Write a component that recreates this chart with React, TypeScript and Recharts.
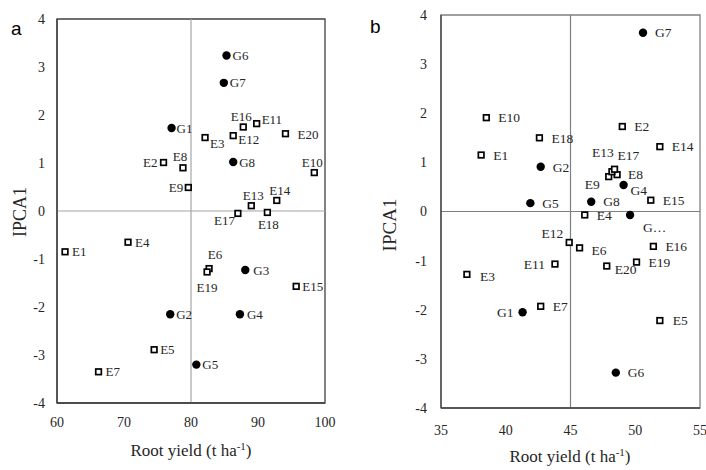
import React from "react";
import {
  ScatterChart,
  Scatter,
  XAxis,
  YAxis,
  ReferenceLine,
  ReferenceArea,
} from "recharts";

// genotypes and environments
const genNames = ["G1", "G2", "G3", "G4", "G5", "G6", "G7", "G8"];
const envNames = [
  "E1", "E2", "E3", "E4", "E5", "E6", "E7", "E8", "E9", "E10",
  "E11", "E12", "E13", "E14", "E15", "E16", "E17", "E18", "E19", "E20",
];
// panel b shows G3 truncated
const genNamesB = ["G1", "G2", "G…", "G4", "G5", "G6", "G7", "G8"];

// panel a
const aGenYield = [77.1, 76.9, 88.1, 87.3, 80.8, 85.3, 84.9, 86.3];
const aGenIpca = [1.73, -2.15, -1.23, -2.15, -3.2, 3.24, 2.67, 1.02];
const aEnvYield = [
  61.2, 75.9, 82.1, 70.6, 74.5, 82.7, 66.2, 78.8, 79.6, 98.4,
  89.8, 86.3, 89.0, 92.8, 95.7, 87.8, 87.0, 91.4, 82.4, 94.1,
];
const aEnvIpca = [
  -0.85, 1.01, 1.53, -0.65, -2.89, -1.2, -3.35, 0.9, 0.49, 0.8,
  1.82, 1.57, 0.11, 0.22, -1.57, 1.75, -0.05, -0.03, -1.27, 1.61,
];

// panel b
const bGenYield = [41.3, 42.7, 49.6, 49.1, 41.9, 48.5, 50.6, 46.6];
const bGenIpca = [-2.05, 0.91, -0.07, 0.54, 0.17, -3.28, 3.64, 0.2];
const bEnvYield = [
  38.1, 49.0, 37.0, 46.1, 51.9, 45.7, 42.7, 48.6, 47.95, 38.5,
  43.8, 44.9, 48.2, 51.9, 51.2, 51.4, 48.4, 42.6, 50.1, 47.8,
];
const bEnvIpca = [
  1.15, 1.73, -1.28, -0.07, -2.22, -0.74, -1.93, 0.75, 0.71, 1.91,
  -1.07, -0.63, 0.81, 1.32, 0.23, -0.71, 0.86, 1.5, -1.03, -1.11,
];

const aXTicks = [60, 70, 80, 90, 100];
const bXTicks = [35, 40, 45, 50, 55];
const yTicks = [-4, -3, -2, -1, 0, 1, 2, 3, 4];

type LabelAt = [number, number, "start" | "middle" | "end"];

// label placement beside each marker (dx, dy, anchor)
const aLabelAt: Record<string, LabelAt> = {
  E16: [-2, -11, "middle"],
  E11: [5, -4, "start"],
  E20: [12, 1, "start"],
  G1: [5, 0, "start"],
  E3: [5, 6, "start"],
  E12: [5, 4, "start"],
  E2: [-6, 0, "end"],
  E8: [-3, -11, "middle"],
  E10: [-2, -10, "middle"],
  E9: [-5, 0, "end"],
  E13: [2, -10, "middle"],
  E14: [3, -10, "middle"],
  E17: [-3, 7, "end"],
  E18: [1, 12, "middle"],
  E1: [7, 0, "start"],
  E4: [7, 0, "start"],
  E6: [6, -14, "middle"],
  E19: [0, 15, "middle"],
  G3: [8, 0, "start"],
  E7: [7, 0, "start"],
  G4: [7, 0, "start"],
};
const bLabelAt: Record<string, LabelAt> = {
  E13: [-9, -19, "middle"],
  E17: [3, -14, "start"],
  E9: [-9, 8, "end"],
  E8: [11, 0, "start"],
  G4: [7, 5, "start"],
  "G…": [13, 12, "start"],
  E12: [-6, -9, "end"],
  E6: [12, 2, "start"],
  E11: [-10, 0, "end"],
  E20: [8, 3, "start"],
  E3: [13, 2, "start"],
  G1: [-9, 0, "end"],
  E5: [13, 0, "start"],
};

const serif = "'Liberation Serif', 'Times New Roman', serif";

const toPoints = (names: string[], xs: number[], ys: number[]) =>
  names.map((name, i) => ({ name, x: xs[i], y: ys[i] }));

const makeShape =
  (
    kind: "dot" | "square",
    labels: Record<string, LabelAt>,
    def: LabelAt,
    size: number
  ) =>
  (props: any) => {
    const { cx, cy, payload } = props;
    const [dx, dy, anchor] = labels[payload.name] || def;
    return (
      <g>
        {kind === "dot" ? (
          <circle cx={cx} cy={cy} r={4.2} fill="#000" />
        ) : (
          <rect
            x={cx - 2.8}
            y={cy - 2.8}
            width={5.6}
            height={5.6}
            fill="#fff"
            stroke="#000"
            strokeWidth={1.7}
          />
        )}
        <text
          x={cx + dx}
          y={cy + dy}
          dy="0.35em"
          textAnchor={anchor}
          fontFamily={serif}
          fontSize={size}
          fill="#262626"
        >
          {payload.name}
        </text>
      </g>
    );
  };

const Panel = ({
  left,
  width,
  yAxisWidth,
  marginTop,
  marginRight,
  xAxisHeight,
  xDomain,
  xTicks,
  cross,
  genPts,
  envPts,
  labels,
  def,
  labelSize,
  frame,
  crossColor,
  yTickMargin,
  xTickMargin,
  letter,
  letterX,
  letterY,
  yTitleX,
  yTitleY,
  yTitleSize,
  xTitleX,
  xTitleY,
}: any) => (
  <div style={{ position: "absolute", left, top: 0, width, height: 470 }}>
    <ScatterChart
      width={width}
      height={470}
      margin={{ top: marginTop, right: marginRight, bottom: 0, left: 0 }}
    >
      <XAxis
        type="number"
        dataKey="x"
        domain={xDomain}
        ticks={xTicks}
        height={xAxisHeight}
        tickLine={false}
        tickSize={6}
        tickMargin={xTickMargin}
        axisLine={{ stroke: "#404040", strokeWidth: 1.3 }}
        tick={{ fill: "#262626", fontSize: 14, fontFamily: serif }}
        interval={0}
      />
      <YAxis
        type="number"
        dataKey="y"
        domain={[-4, 4]}
        ticks={yTicks}
        width={yAxisWidth}
        tickLine={false}
        tickSize={6}
        tickMargin={yTickMargin}
        axisLine={{ stroke: "#404040", strokeWidth: 1.3 }}
        tick={{ fill: "#262626", fontSize: 14, fontFamily: serif }}
        interval={0}
      />
      <ReferenceArea
        x1={xDomain[0]}
        x2={xDomain[1]}
        y1={-4}
        y2={4}
        fill="none"
        stroke={frame}
        strokeWidth={1.3}
        ifOverflow="visible"
      />
      <ReferenceLine x={cross} stroke={crossColor} strokeWidth={1.2} />
      <ReferenceLine y={0} stroke={crossColor} strokeWidth={1.2} />
      <Scatter
        data={envPts}
        isAnimationActive={false}
        shape={makeShape("square", labels, def, labelSize)}
      />
      <Scatter
        data={genPts}
        isAnimationActive={false}
        shape={makeShape("dot", labels, def, labelSize)}
      />
    </ScatterChart>
    <svg
      width={width}
      height={470}
      style={{ position: "absolute", left: 0, top: 0, pointerEvents: "none" }}
    >
      <text
        x={letterX}
        y={letterY}
        fontFamily="'Liberation Sans', Arial, sans-serif"
        fontSize={19}
        fill="#000"
      >
        {letter}
      </text>
      <text
        transform={`translate(${yTitleX},${yTitleY}) rotate(-90)`}
        textAnchor="middle"
        dy="0.35em"
        fontFamily={serif}
        fontSize={yTitleSize}
        fill="#262626"
      >
        IPCA1
      </text>
      <text
        x={xTitleX}
        y={xTitleY}
        textAnchor="middle"
        fontFamily={serif}
        fontSize={17}
        fill="#262626"
      >
        Root yield (t ha
        <tspan dy={-6} fontSize={11}>
          -1
        </tspan>
        <tspan dy={6}>)</tspan>
      </text>
    </svg>
  </div>
);

export default function App() {
  return (
    <div
      style={{
        position: "absolute",
        left: 0,
        top: 0,
        width: 706,
        height: 470,
        background: "#fff",
      }}
    >
      <Panel
        left={0}
        width={340}
        yAxisWidth={57}
        marginTop={19}
        marginRight={15}
        xAxisHeight={67}
        xDomain={[60, 100]}
        xTicks={aXTicks}
        cross={80}
        genPts={toPoints(genNames, aGenYield, aGenIpca)}
        envPts={toPoints(envNames, aEnvYield, aEnvIpca)}
        labels={aLabelAt}
        def={[6, 0, "start"]}
        labelSize={13}
        frame="#404040"
        crossColor="#a6a6a6"
        yTickMargin={6}
        xTickMargin={8}
        letter="a"
        letterX={11}
        letterY={35}
        yTitleX={20}
        yTitleY={212}
        yTitleSize={18}
        xTitleX={191}
        xTitleY={456}
      />
      <Panel
        left={350}
        width={356}
        yAxisWidth={91}
        marginTop={15}
        marginRight={6}
        xAxisHeight={62}
        xDomain={[35, 55]}
        xTicks={bXTicks}
        cross={45}
        genPts={toPoints(genNamesB, bGenYield, bGenIpca)}
        envPts={toPoints(envNames, bEnvYield, bEnvIpca)}
        labels={bLabelAt}
        def={[12, 0, "start"]}
        labelSize={13.5}
        frame="#808080"
        crossColor="#808080"
        yTickMargin={8}
        xTickMargin={11}
        letter="b"
        letterX={20}
        letterY={33}
        yTitleX={39}
        yTitleY={225}
        yTitleSize={19}
        xTitleX={220}
        xTitleY={462}
      />
    </div>
  );
}
